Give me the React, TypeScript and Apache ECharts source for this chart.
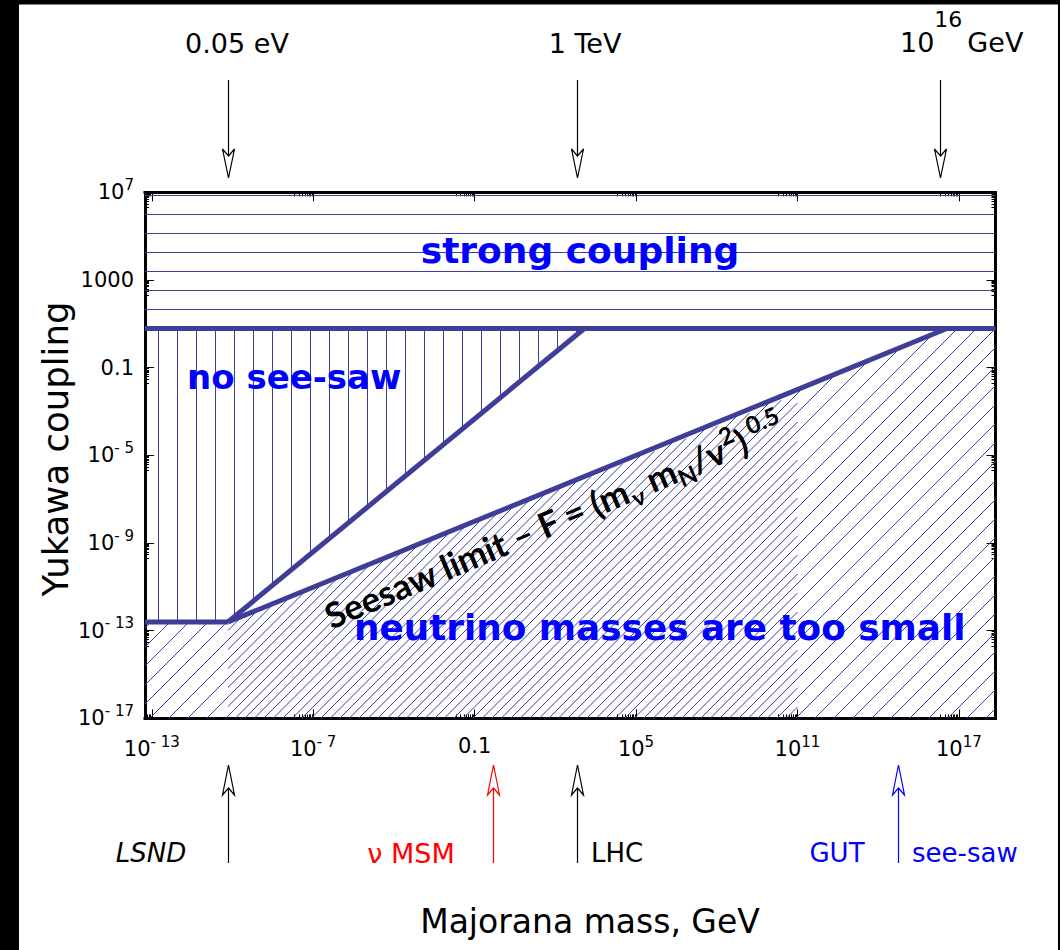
import React, { useEffect, useRef } from 'react';
import * as echarts from 'echarts';

const FONT = 'DejaVu Sans';
const LINE_COLOR = '#3e3e99';
const HATCH_COLOR = '#3e3e9e';

// Axis extents (GeV / coupling), read from the frame
const MASS_RANGE = [5.6e-14, 2.3e18];
const COUPLING_RANGE = [1e-17, 1e7];

// Major ticks (log10) and their labels
const X_TICK_EXP = [-13, -7, -1, 5, 11, 17];
const X_TICK_LABELS = ['10|- 13', '10|- 7', '0.1', '10|5', '10|11', '10|17'];
const Y_TICK_EXP = [7, 3, -1, -5, -9, -13, -17];
const Y_TICK_LABELS = ['10|7', '1000', '0.1', '10|- 5', '10|- 9', '10|- 13', '10|- 17'];

// Boundaries
const STRONG_COUPLING = 6.2;
const MIN_COUPLING = 2.5e-13;
const JUNCTION_MASS = 6.8e-11;
const NO_SEESAW_END_MASS = 1.2e3;
const SEESAW_END_MASS = 3.6e16;
const DENSE_END_MASS = 1e11;
const DENSE_END_COUPLING = 6.5e-3;

// Arrow annotations (mass positions)
const TOP_ARROW_MASS = [6.8e-11, 6.3e2, 1.95e16];
const BOTTOM_ARROW_MASS = [6.8e-11, 0.47, 6.3e2, 5.4e14];
const BOTTOM_ARROW_COLOR = ['#000000', '#ff0000', '#000000', '#0000ff'];

const lg = (v: number) => Math.log10(v);
const m0 = MASS_RANGE[0], m1 = MASS_RANGE[1];
const c0 = COUPLING_RANGE[0], c1 = COUPLING_RANGE[1];

const REGION_STRONG = [[m0, STRONG_COUPLING], [m1, STRONG_COUPLING], [m1, c1], [m0, c1]];
const REGION_NO_SEESAW = [[m0, STRONG_COUPLING], [NO_SEESAW_END_MASS, STRONG_COUPLING], [JUNCTION_MASS, MIN_COUPLING], [m0, MIN_COUPLING]];
const REGION_TOO_SMALL = [[m0, MIN_COUPLING], [JUNCTION_MASS, MIN_COUPLING], [SEESAW_END_MASS, STRONG_COUPLING], [m1, STRONG_COUPLING], [m1, c0], [m0, c0]];
const REGION_DENSE = [[JUNCTION_MASS, MIN_COUPLING], [DENSE_END_MASS, DENSE_END_COUPLING], [DENSE_END_MASS, c0], [JUNCTION_MASS, c0]];

const LINES = [
  [[m0, STRONG_COUPLING], [m1, STRONG_COUPLING]],
  [[m0, MIN_COUPLING], [JUNCTION_MASS, MIN_COUPLING]],
  [[JUNCTION_MASS, MIN_COUPLING], [NO_SEESAW_END_MASS, STRONG_COUPLING]],
  [[JUNCTION_MASS, MIN_COUPLING], [SEESAW_END_MASS, STRONG_COUPLING]],
];

type Pt = number[];
function hatch(pts: Pt[], nx: number, ny: number, step: number, offset: number) {
  const proj = pts.map(p => p[0] * nx + p[1] * ny);
  const lo = Math.min(...proj), hi = Math.max(...proj);
  const segs: Pt[][] = [];
  for (let c = offset + Math.ceil((lo - offset) / step) * step; c <= hi; c += step) {
    const hits: Pt[] = [];
    for (let i = 0; i < pts.length; i++) {
      const j = (i + 1) % pts.length;
      const sa = proj[i] - c, sb = proj[j] - c;
      if ((sa < 0) !== (sb < 0)) {
        const t = sa / (sa - sb);
        hits.push([pts[i][0] + (pts[j][0] - pts[i][0]) * t, pts[i][1] + (pts[j][1] - pts[i][1]) * t]);
      }
    }
    hits.sort((p, q) => (-p[0] * ny + p[1] * nx) - (-q[0] * ny + q[1] * nx));
    for (let k = 0; k + 1 < hits.length; k += 2) segs.push([hits[k], hits[k + 1]]);
  }
  return segs;
}

const HATCH: Record<string, { nx: number; ny: number; step: number; offset: number }> = {
  h: { nx: 0, ny: 1, step: 19, offset: 195.5 },
  v: { nx: 1, ny: 0, step: 19, offset: 158.5 },
  d: { nx: 1, ny: 1, step: 19, offset: 13 },
  dd: { nx: 1, ny: 1, step: 19, offset: 22.5 },
};

function hatchSeries(region: number[][], kind: string) {
  return {
    type: 'custom',
    coordinateSystem: 'cartesian2d',
    xAxisIndex: 0,
    yAxisIndex: 0,
    silent: true,
    clip: true,
    z: 2,
    data: [[lg(region[0][0]), lg(region[0][1])]],
    renderItem: (_p: any, api: any) => {
      const pts = region.map(p => api.coord([lg(p[0]), lg(p[1])]));
      const s = HATCH[kind];
      const segs = hatch(pts, s.nx, s.ny, s.step, s.offset);
      return {
        type: 'group',
        children: segs.map(([a, b]) => ({
          type: 'line',
          shape: { x1: a[0], y1: a[1], x2: b[0], y2: b[1] },
          style: { stroke: HATCH_COLOR, lineWidth: 1 },
        })),
      };
    },
  };
}

function arrowShape(x: number, tip: number, back: number, notch: number, tail: number, color: string) {
  return [
    { type: 'line', shape: { x1: x, y1: tail, x2: x, y2: notch }, style: { stroke: color, lineWidth: 1.2 } },
    {
      type: 'polygon',
      shape: { points: [[x, tip], [x - 6, back], [x, notch], [x + 6, back]] },
      style: { fill: '#ffffff', stroke: color, lineWidth: 1.2 },
    },
  ];
}

function arrowSeries(masses: number[], top: boolean, colors: string[]) {
  return {
    type: 'custom',
    coordinateSystem: 'cartesian2d',
    xAxisIndex: 0,
    yAxisIndex: 0,
    silent: true,
    clip: false,
    z: 5,
    data: masses.map(m => [lg(m), 0]),
    renderItem: (p: any, api: any) => {
      const x = Math.round(api.coord([api.value(0), 0])[0]) + 0.5;
      const color = colors[p.dataIndex];
      const children = top ? arrowShape(x, 178, 149, 156, 80, color) : arrowShape(x, 765, 795, 788, 863, color);
      return { type: 'group', children };
    },
  };
}

const tickRich = {
  b: { fontFamily: FONT, fontSize: 21, color: '#000', lineHeight: 30 },
  s: { fontFamily: FONT, fontSize: 15, color: '#000', lineHeight: 14, verticalAlign: 'top' },
  p: { fontFamily: FONT, fontSize: 21, color: '#000', lineHeight: 24 },
};
function fmt(label: string) {
  if (label.includes('|')) {
    const [b, s] = label.split('|');
    return `{b|${b}}{s|${s}}`;
  }
  return `{p|${label}}`;
}
const minorOf = (exps: number[]) => {
  const out: number[] = [];
  exps.forEach(e => { for (let k = 2; k <= 9; k++) out.push(e - 1 + Math.log10(k)); });
  return out;
};

function axis(kind: 'x' | 'y', position: string, major: boolean, showLine: boolean, showLabel: boolean) {
  const exps = kind === 'x' ? X_TICK_EXP : Y_TICK_EXP;
  const labels = kind === 'x' ? X_TICK_LABELS : Y_TICK_LABELS;
  const lo = kind === 'x' ? lg(m0) : lg(c0);
  const hi = kind === 'x' ? lg(m1) : lg(c1);
  const vals = major ? exps : minorOf(exps).filter(v => v > lo && v < hi);
  return {
    type: 'value',
    gridIndex: 0,
    position,
    min: lo,
    max: hi,
    splitLine: { show: false },
    axisLine: { show: showLine, onZero: false, lineStyle: { color: '#000', width: 3, cap: 'square' } },
    axisTick: { show: true, inside: true, length: major ? 9 : 4, customValues: vals, lineStyle: { color: '#000', width: 1 } },
    axisLabel: showLabel
      ? {
          show: true,
          customValues: exps,
          margin: kind === 'x' ? 16 : 11,
          formatter: (v: number) => fmt(labels[exps.indexOf(Math.round(v))] ?? ''),
          rich: tickRich,
        }
      : { show: false },
  };
}

export default function App() {
  const ref = useRef<HTMLDivElement>(null);
  useEffect(() => {
    if (!ref.current) return;
    const chart = echarts.init(ref.current, undefined, { renderer: 'svg' });
    const blue = '#0000ff';
    const bigBlue = { fontFamily: FONT, fontWeight: 'bold', fill: blue };
    chart.setOption({
      animation: false,
      backgroundColor: '#ffffff',
      grid: { left: 145, top: 192.4, width: 850.5, height: 526 },
      xAxis: [
        axis('x', 'bottom', true, true, true),
        axis('x', 'bottom', false, false, false),
        axis('x', 'top', true, true, false),
        axis('x', 'top', false, false, false),
      ],
      yAxis: [
        axis('y', 'left', true, true, true),
        axis('y', 'left', false, false, false),
        axis('y', 'right', true, true, false),
        axis('y', 'right', false, false, false),
      ],
      series: [
        hatchSeries(REGION_STRONG, 'h'),
        hatchSeries(REGION_NO_SEESAW, 'v'),
        hatchSeries(REGION_TOO_SMALL, 'd'),
        hatchSeries(REGION_DENSE, 'dd'),
        ...LINES.map(l => ({
          type: 'line',
          xAxisIndex: 0,
          yAxisIndex: 0,
          data: l.map(p => [lg(p[0]), lg(p[1])]),
          symbol: 'none',
          silent: true,
          z: 4,
          lineStyle: { color: LINE_COLOR, width: 5 },
        })),
        arrowSeries(TOP_ARROW_MASS, true, ['#000', '#000', '#000']),
        arrowSeries(BOTTOM_ARROW_MASS, false, BOTTOM_ARROW_COLOR),
      ],
      graphic: [
        { type: 'rect', z: 200, shape: { x: 0, y: 0, width: 19, height: 950 }, style: { fill: '#000' } },
        { type: 'rect', z: 200, shape: { x: 0, y: 0, width: 1060, height: 4.5 }, style: { fill: '#000' } },
        { type: 'rect', z: 200, shape: { x: 1058, y: 0, width: 2, height: 950 }, style: { fill: '#000' } },
        { type: 'text', z: 100, x: 580, y: 250, style: { ...bigBlue, fontSize: 36, text: 'strong coupling', align: 'center', verticalAlign: 'middle' } },
        { type: 'text', z: 100, x: 187, y: 377, style: { ...bigBlue, fontSize: 34, text: 'no see-saw', align: 'left', verticalAlign: 'middle' } },
        { type: 'text', z: 100, x: 354, y: 627, style: { ...bigBlue, fontSize: 35.8, text: 'neutrino masses are too small', align: 'left', verticalAlign: 'middle' } },
        {
          type: 'text', z: 101, x: 335, y: 638, rotation: (23 * Math.PI) / 180,
          style: {
            text: '{t|Seesaw limit – F = (m}{sub|ν}{t| m}{sub|N}{t|/v}{sup|2}{t|)}{sup| 0.5}',
            align: 'left', verticalAlign: 'bottom',
            rich: {
              t: { fontFamily: 'Lato', fontWeight: 'bold', fontSize: 35, lineHeight: 46, fill: '#000' },
              sub: { fontFamily: 'Lato', fontWeight: 'bold', fontSize: 24, lineHeight: 20, verticalAlign: 'bottom', fill: '#000' },
              sup: { fontFamily: 'Lato', fontWeight: 'bold', fontSize: 24, lineHeight: 18, verticalAlign: 'top', fill: '#000' },
            },
          },
        },
        { type: 'text', z: 100, x: 237, y: 43, style: { text: '0.05 eV', fontFamily: FONT, fontSize: 27, fill: '#000', align: 'center', verticalAlign: 'middle' } },
        { type: 'text', z: 100, x: 585, y: 43, style: { text: '1 TeV', fontFamily: FONT, fontSize: 27, fill: '#000', align: 'center', verticalAlign: 'middle' } },
        {
          type: 'text', z: 100, x: 900, y: 76, style: {
            text: '{b|10}{s|16}{g|GeV}', align: 'left', verticalAlign: 'bottom',
            rich: {
              b: { fontFamily: FONT, fontSize: 27, lineHeight: 68, fill: '#000' },
              s: { fontFamily: FONT, fontSize: 22, lineHeight: 4, verticalAlign: 'top', fill: '#000' },
              g: { fontFamily: FONT, fontSize: 27, lineHeight: 68, fill: '#000', padding: [0, 0, 0, 5] },
            },
          },
        },
        { type: 'text', z: 100, x: 151, y: 853, style: { text: 'LSND', fontFamily: FONT, fontStyle: 'italic', fontSize: 26, fill: '#000', align: 'center', verticalAlign: 'middle' } },
        { type: 'text', z: 100, x: 411, y: 853, style: { text: 'ν MSM', fontFamily: FONT, fontSize: 27, fill: '#ff0000', align: 'center', verticalAlign: 'middle' } },
        { type: 'text', z: 100, x: 591, y: 853, style: { text: 'LHC', fontFamily: FONT, fontSize: 26, fill: '#000', align: 'left', verticalAlign: 'middle' } },
        { type: 'text', z: 100, x: 837, y: 853, style: { text: 'GUT', fontFamily: FONT, fontSize: 26, fill: blue, align: 'center', verticalAlign: 'middle' } },
        { type: 'text', z: 100, x: 912, y: 853, style: { text: 'see-saw', fontFamily: FONT, fontSize: 26, fill: blue, align: 'left', verticalAlign: 'middle' } },
        { type: 'text', z: 100, x: 590, y: 921, style: { text: 'Majorana mass, GeV', fontFamily: FONT, fontSize: 33, fill: '#000', align: 'center', verticalAlign: 'middle' } },
        { type: 'text', z: 100, x: 55, y: 449, rotation: Math.PI / 2, style: { text: 'Yukawa coupling', fontFamily: FONT, fontSize: 35.5, fill: '#000', align: 'center', verticalAlign: 'middle' } },
      ],
    });
    return () => chart.dispose();
  }, []);
  return <div ref={ref} style={{ position: 'absolute', left: 0, top: 0, width: 1060, height: 950 }} />;
}
